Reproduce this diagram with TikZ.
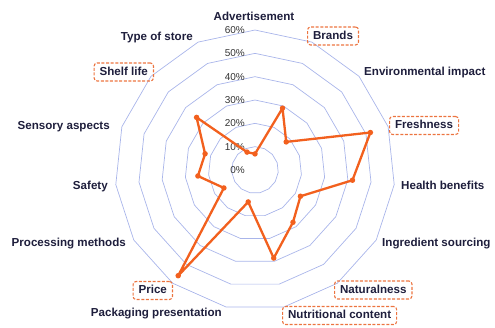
\documentclass[tikz,border=0pt]{standalone}
\usepackage{fontspec}
\setmainfont{Liberation Sans}
\usetikzlibrary{calc}
\definecolor{gridblue}{HTML}{A9B5EA}
\definecolor{lineorange}{HTML}{F2601E}
\definecolor{boxorange}{HTML}{EC7440}
\definecolor{labelnavy}{HTML}{1E1E3C}

\begin{document}
\begin{tikzpicture}[x=1pt,y=1pt,line join=round,
    axislabel/.style={font=\bfseries\fontsize{11.6}{13}\selectfont,text=labelnavy,inner sep=1pt,text height=8.6pt,text depth=2.4pt},
    hilite/.style={axislabel,draw=boxorange,dash pattern=on 3pt off 1.6pt,line width=1.1pt,rounded corners=3pt,inner xsep=5.5pt,inner ysep=3.5pt},
    pctlabel/.style={font=\fontsize{10}{12}\selectfont,text=black!80,inner sep=0pt,anchor=east},
    ring/.style={gridblue,line width=.7pt},
    datapoint/.style={circle,fill=lineorange,inner sep=0pt,minimum size=5.5pt}]
\useasboundingbox(0,0)rectangle(495,327);
\def\u{23.33}
% grid rings, 15 axes
\foreach \r in {1,...,6} {
        \draw[ring](255,157)++(90:\r*\u)\foreach \k in {1,...,14}{--($(255,157)+(90-24*\k:\r*\u)$)}--cycle;
    }
\foreach \r in {0,...,6} {
        \pgfmathtruncatemacro\p{\r*10}
        \node[pctlabel](pct\r)at(245,157+\r*\u){\p\%};
    }
% data
\foreach \v [count=\k from 0] in {6.9,29,18,52,42,22.5,27.7,38.6,14,56,15.4,24.6,22.5,33.7,8.4} {
        \coordinate(d\k)at($(255,157)+(90-24*\k:\v*\u/10)$);
    }
\draw[lineorange,line width=2.3pt](d0)\foreach \k in {1,...,14}{--(d\k)}--cycle;
\foreach \k in {0,...,14} {
        \node[datapoint](m\k)at(d\k){};
    }
% axis labels
\node[axislabel](advert)at(254,310){Advertisement};
\node[hilite,anchor=west](brands)at(307,291){Brands};
\node[axislabel,anchor=west](envir)at(363,255){Environmental impact};
\node[hilite,anchor=west](fresh)at(389,201.5){Freshness};
\node[axislabel,anchor=west](health)at(400,141){Health benefits};
\node[axislabel,anchor=west](ingred)at(381,84){Ingredient sourcing};
\node[hilite,anchor=west](natural)at(334,37){Naturalness};
\node[hilite,anchor=west](nutri)at(282,11.5){Nutritional content};
\node[axislabel,anchor=east](packag)at(223,14){Packaging presentation};
\node[hilite,anchor=east](price)at(173,36.5){Price};
\node[axislabel,anchor=east](process)at(127,84){Processing methods};
\node[axislabel,anchor=east](safety)at(109,141){Safety};
\node[axislabel,anchor=east](sensory)at(111,201){Sensory aspects};
\node[hilite,anchor=east](shelf)at(154,255){Shelf life};
\node[axislabel,anchor=east](store)at(194,290){Type of store};
\end{tikzpicture}
\end{document}
